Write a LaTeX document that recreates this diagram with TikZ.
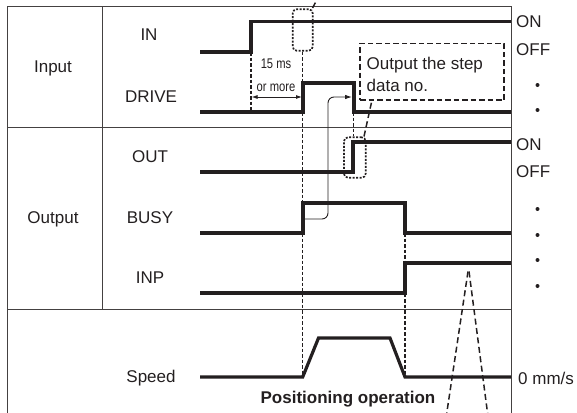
\documentclass[tikz,border=0pt]{standalone}
\usepackage{fontspec}
\setmainfont{Liberation Sans}
\usetikzlibrary{arrows.meta}
\definecolor{ink}{HTML}{231F20}
\tikzset{
  frame/.style={line width=1pt, draw=ink!85},
  sig/.style={line width=3.2pt, draw=ink, line join=miter},
  lbl/.style={font=\fontsize{17}{22}\selectfont, text=ink, inner sep=0pt},
  small/.style={font=\fontsize{14}{16}\selectfont, text=ink, inner sep=0pt, xscale=0.8},
  bold/.style={font=\fontsize{17}{20}\selectfont\bfseries, text=ink, inner sep=0pt},
  guide/.style={line width=1.2pt, draw=ink, dash pattern=on 3.5pt off 2pt},
  dotbox/.style={draw=ink, line width=1.7pt, dash pattern=on 2pt off 1.5pt, rounded corners=4pt, inner sep=0pt},
  callbox/.style={draw=ink, line width=1.5pt, dash pattern=on 5.5pt off 3pt, inner sep=0pt},
  leader/.style={draw=ink, line width=1.5pt, dash pattern=on 6pt off 3.5pt},
  thin/.style={draw=ink, line width=0.9pt},
  dot/.style={circle, fill=ink, inner sep=0pt, minimum size=4pt}
}
\begin{document}
\begin{tikzpicture}[x=1pt,y=-1pt]
\useasboundingbox (0,0) rectangle (577,412);
\begin{scope}
\clip (0,0) rectangle (577,412);
% table frame
\draw[frame] (7.5,6.5) -- (511,6.5);
\draw[frame] (7.5,6.5) -- (7.5,420);
\draw[frame] (511,6.5) -- (511,420);
\draw[frame] (102,6.5) -- (102,309);
\draw[frame] (7.5,127) -- (511,127);
\draw[frame] (7.5,309) -- (511,309);

% labels
\node[lbl] (input) at (53,68) {Input};
\node[lbl] (output) at (53,219) {Output};
\node[lbl] (in) at (149,35) {IN};
\node[lbl] (drive) at (151,97) {DRIVE};
\node[lbl] (out) at (150,157) {OUT};
\node[lbl] (busy) at (150,218) {BUSY};
\node[lbl] (inp) at (150,278) {INP};
\node[lbl] (speed) at (151,378) {Speed};
\node[bold] (posop) at (348,399) {Positioning operation};

% right side labels
\node[lbl, anchor=west] (on1) at (516,22) {ON};
\node[lbl, anchor=west] (off1) at (516,50) {OFF};
\node[dot] (d1) at (537.5,85) {};
\node[dot] (d2) at (537.5,110) {};
\node[lbl, anchor=west] (on2) at (516,145) {ON};
\node[lbl, anchor=west] (off2) at (516,172) {OFF};
\node[dot] (d3) at (537.5,209) {};
\node[dot] (d4) at (537.5,235) {};
\node[dot] (d5) at (537.5,260) {};
\node[dot] (d6) at (537.5,286) {};
\node[lbl, anchor=west] (zero) at (518,378) {0 mm/s};

% key coordinates
\coordinate (inrise) at (251,52);
\coordinate (drivelowA) at (251,112);
\coordinate (driverise) at (303,112);
\coordinate (drivefall) at (353.5,112);
\coordinate (busyfall) at (405,233);
\coordinate (spdstart) at (302.7,377);
\coordinate (spdend) at (405,377);

% signals
\draw[sig] (200,52) -- (251,52) -- (251,21.5) -- (511,21.5);
\draw[sig] (200,112) -- (303,112) -- (303,83) -- (354,83) -- (354,112) -- (511,112);
\draw[sig] (200,172) -- (353,172) -- (353,142) -- (511,142);
\draw[sig] (200,233) -- (303,233) -- (303,203) -- (405,203) -- (405,233) -- (511,233);
\draw[sig] (200,293) -- (405,293) -- (405,263) -- (511,263);
\draw[sig] (200,377) -- (302.7,377) -- (318.5,338) -- (390,338) -- (405,377) -- (511,377);

% 15 ms or more
\draw[guide] (inrise) -- (drivelowA);
\node[small] (ms) at (276,64) {15 ms};
\node[small] (more) at (276,87.5) {or more};
\coordinate (a1) at (251.5,97);
\coordinate (a2) at (302,97);
\draw[thin, {Latex[length=6pt,width=4pt]}-{Latex[length=6pt,width=4pt]}] (a1) -- (a2);

% dotted box on IN
\node[dotbox, minimum width=20pt, minimum height=41.4pt] (inbox) at (302.7,30) {};
\draw[guide] (inbox.south) -- (spdstart);
\coordinate (inlead) at (321,-8);
\draw[leader] ([xshift=-1pt,yshift=0.5pt]inbox.north east) -- (inlead);

% dotted box on OUT
\node[dotbox, minimum width=21.7pt, minimum height=40.4pt] (outbox) at (354.8,157.5) {};
\draw[guide] (drivefall) -- (outbox.north -| drivefall);

% callout
\node[callbox, minimum width=144pt, minimum height=56.7pt] (callout) at (432,71.7) {};
\node[lbl, anchor=west, align=left] (calltext) at (366.5,74) {Output the step\\data no.};
\coordinate (callfoot) at (372,100);
\draw[leader] ([xshift=-2.5pt]outbox.north east) -- (callfoot);

% BUSY -> DRIVE arrow
\coordinate (bstart) at (303,219);
\coordinate (bend) at (352,97);
\draw[thin, rounded corners=6pt, -{Latex[length=7pt,width=4.5pt]}] (bstart) -- (328,219) -- (328,97) -- (bend);

% BUSY fall guide
\draw[guide] (busyfall) -- (spdend);

% large leaders from below
\coordinate (apex) at (468,271.5);
\draw[leader] (apex) -- (444.5,428);
\draw[leader] ([xshift=1pt]apex) -- (489.5,428);
\end{scope}
\end{tikzpicture}
\end{document}
